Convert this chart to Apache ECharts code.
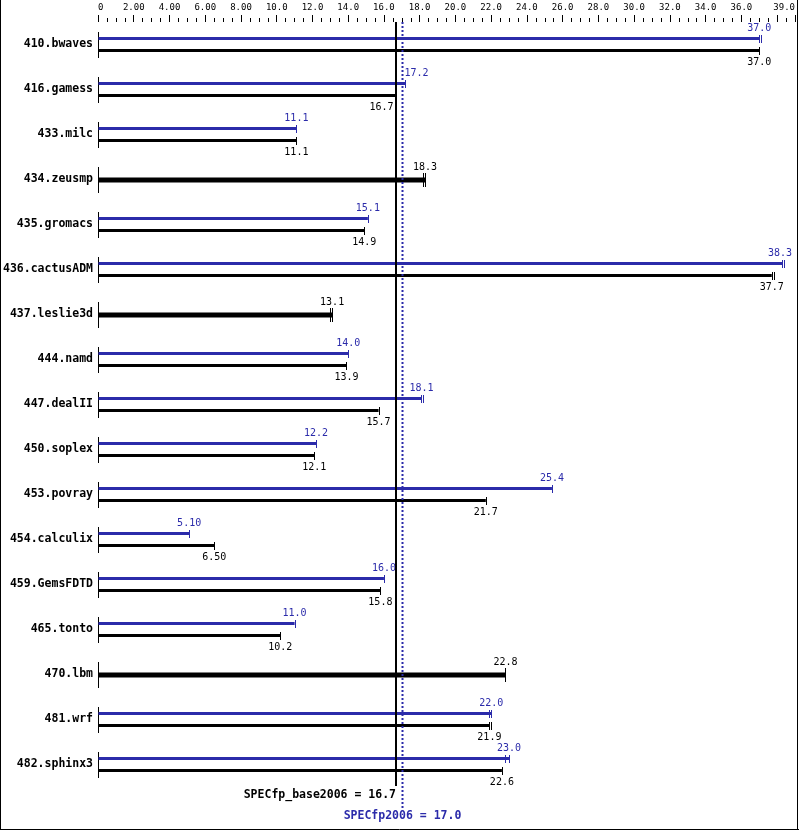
<!DOCTYPE html>
<html>
<head>
<meta charset="utf-8">
<script src="https://cdn.jsdelivr.net/npm/echarts@6/dist/echarts.min.js"></script>
<style>
html,body{margin:0;padding:0;background:#fff;}
#chart{width:799px;height:831px;}
</style>
</head>
<body>
<div id="chart"></div>
<script>
const benchmarks = ['410.bwaves','416.gamess','433.milc','434.zeusmp','435.gromacs','436.cactusADM','437.leslie3d','444.namd','447.dealII','450.soplex','453.povray','454.calculix','459.GemsFDTD','465.tonto','470.lbm','481.wrf','482.sphinx3'];
const baseValues = [37.0, 16.7, 11.1, 18.3, 14.9, 37.7, 13.1, 13.9, 15.7, 12.1, 21.7, 6.50, 15.8, 10.2, 22.8, 21.9, 22.6];
const peakValues = [37.0, 17.2, 11.1, null, 15.1, 38.3, null, 14.0, 18.1, 12.2, 25.4, 5.10, 16.0, 11.0, null, 22.0, 23.0];
const baseRunAlt = [null, null, null, 18.2, null, 37.8, 13.0, null, null, null, null, null, null, null, null, 22.0, null];
const peakRunAlt = [37.1, null, null, null, null, 38.4, null, null, 18.2, null, null, null, null, null, null, 21.9, 22.8];
const baseScore = 16.7;
const peakScore = 17.0;
const baseScoreLabel = 'SPECfp_base2006 = 16.7';
const peakScoreLabel = 'SPECfp2006 = 17.0';
const axisMin = 0, axisMax = 39, axisStep = 2;

const BLUE = '#2b2baa';
const MONO = "'DejaVu Sans Mono', 'Liberation Mono', monospace";

function fmt(v) { return v < 10 ? v.toFixed(2) : v.toFixed(1); }

const chart = echarts.init(document.getElementById('chart'));

function renderBench(params, api) {
  const i = params.dataIndex;
  const base = baseValues[i], peak = peakValues[i];
  const p0 = api.coord([0, i]);
  const x0 = Math.round(p0[0]) + 0.5;
  const yc = Math.round(p0[1]);
  const xBaseLine = api.coord([baseScore, i])[0];
  const xPeakLine = api.coord([peakScore, i])[0];
  const rightLimit = params.coordSys.x + params.coordSys.width - 3;
  const children = [];
  function line(x1, y1, x2, y2, color, w) {
    children.push({type: 'line', shape: {x1, y1, x2, y2}, style: {stroke: color, lineWidth: w}});
  }
  function label(v, y, color) {
    const cx = api.coord([v, i])[0];
    const half = 12;
    let x = cx, align = 'center';
    const hits = (xl) => xl > cx - half && xl < cx + half;
    if (hits(xBaseLine) || hits(xPeakLine)) {
      if (v > peakScore) { x = cx - 1; align = 'left'; }
      else { x = cx - 3; align = 'right'; }
    }
    if (align === 'center' && cx + half > rightLimit) { x = rightLimit; align = 'right'; }
    children.push({type: 'text', style: {text: fmt(v), x, y, align, verticalAlign: 'middle', fill: color, font: '10px ' + MONO}});
  }
  function endTick(v, y1, y2, color) {
    if (v == null) return;
    const x = Math.round(api.coord([v, i])[0]) + 0.5;
    line(x, y1, x, y2, color, 1);
  }
  line(x0, yc - 13, x0, yc + 13, '#000', 1);
  if (peak != null) {
    const xp = api.coord([peak, i])[0];
    const xb = api.coord([base, i])[0];
    line(x0, yc - 6.5, xp, yc - 6.5, BLUE, 3);
    endTick(peak, yc - 10, yc - 2, BLUE);
    endTick(peakRunAlt[i], yc - 10, yc - 2, BLUE);
    label(peak, yc - 17, BLUE);
    line(x0, yc + 5.5, xb, yc + 5.5, '#000', 3);
    endTick(base, yc + 2, yc + 10, '#000');
    endTick(baseRunAlt[i], yc + 2, yc + 10, '#000');
    label(base, yc + 17, '#000');
  } else {
    const xb = api.coord([base, i])[0];
    line(x0, yc, xb, yc, '#000', 5);
    endTick(base, yc - 7, yc + 7, '#000');
    endTick(baseRunAlt[i], yc - 7, yc + 7, '#000');
    label(base, yc - 13, '#000');
  }
  return {type: 'group', children};
}

function renderScores(params, api) {
  const cs = params.coordSys;
  const xb = Math.round(api.coord([baseScore, 0])[0]);
  const xp = Math.round(api.coord([peakScore, 0])[0]) + 0.5;
  const top = cs.y;
  const bottom = cs.y + cs.height;
  return {type: 'group', children: [
    {type: 'line', shape: {x1: xb, y1: top, x2: xb, y2: bottom - 1}, style: {stroke: '#000', lineWidth: 2}},
    {type: 'line', shape: {x1: xp, y1: top, x2: xp, y2: bottom + 21}, style: {stroke: BLUE, lineWidth: 2, lineDash: [2, 2]}},
    {type: 'text', style: {text: baseScoreLabel, x: xb, y: bottom + 8, align: 'right', verticalAlign: 'middle', fill: '#000', font: 'bold 11.5px ' + MONO}},
    {type: 'text', style: {text: peakScoreLabel, x: xp, y: bottom + 29, align: 'center', verticalAlign: 'middle', fill: BLUE, font: 'bold 11.5px ' + MONO}}
  ]};
}

const option = {
  backgroundColor: '#fff',
  animation: false,
  grid: {left: 98, right: 4, top: 22, height: 765, containLabel: false},
  xAxis: {
    type: 'value', position: 'top', min: axisMin, max: axisMax, interval: axisStep,
    axisLine: {show: false},
    axisTick: {show: true, length: 7, lineStyle: {color: '#000', width: 1}},
    minorTick: {show: true, splitNumber: 4, length: 4, lineStyle: {color: '#000', width: 1}},
    splitLine: {show: false},
    axisLabel: {
      margin: 10, color: '#000', fontSize: 9, fontFamily: MONO,
      alignMinLabel: 'left', alignMaxLabel: 'right',
      formatter: v => v === 0 ? '0' : (v === 38 ? '' : fmt(v))
    }
  },
  yAxis: {
    type: 'category', inverse: true, data: benchmarks,
    axisLine: {show: false}, axisTick: {show: false}, splitLine: {show: false},
    axisLabel: {margin: 5, color: '#000', fontWeight: 'bold', fontSize: 11.5, fontFamily: MONO}
  },
  series: [
    {type: 'custom', renderItem: renderBench, data: benchmarks.map((b, i) => [baseValues[i], i]), encode: {x: 0, y: 1}, z: 2},
    {type: 'custom', renderItem: renderScores, data: [[baseScore, 0]], encode: {x: 0, y: 1}, z: 5}
  ],
  graphic: [
    {type: 'line', shape: {x1: 0.5, y1: 0, x2: 0.5, y2: 830}, style: {stroke: '#000', lineWidth: 1}},
    {type: 'line', shape: {x1: 797.5, y1: 0, x2: 797.5, y2: 830}, style: {stroke: '#000', lineWidth: 1}},
    {type: 'line', shape: {x1: 0, y1: 829.5, x2: 799, y2: 829.5}, style: {stroke: '#000', lineWidth: 1}}
  ]
};
chart.setOption(option);
</script>
</body>
</html>
